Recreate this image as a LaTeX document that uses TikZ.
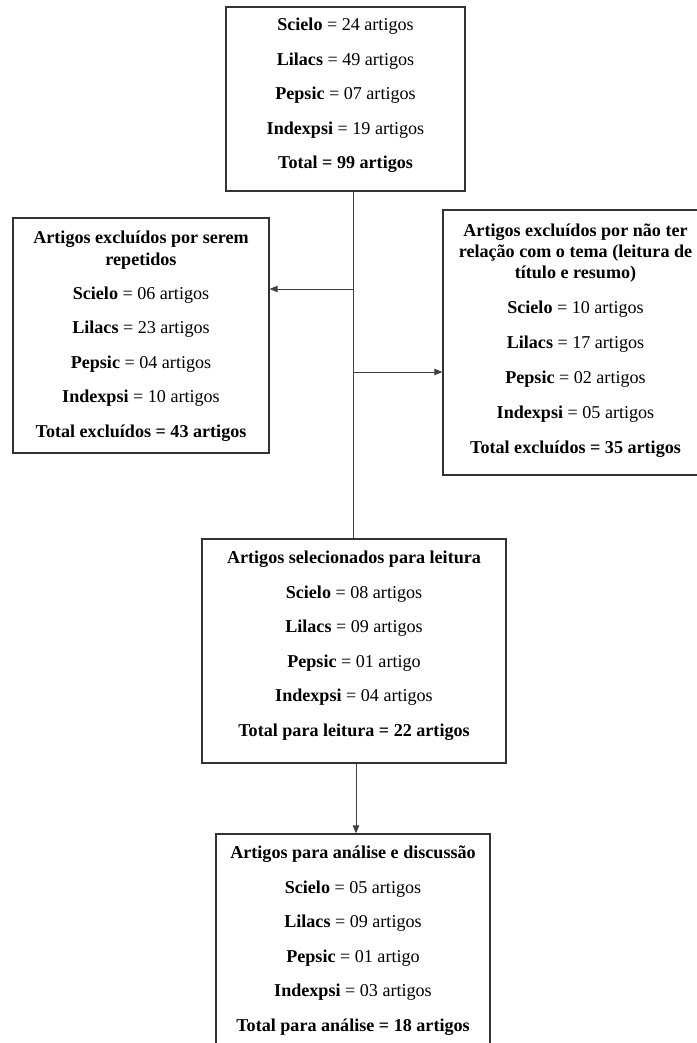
\documentclass[tikz,border=0pt]{standalone}
\usepackage{fontspec}
\newfontfamily\tnr{Liberation Serif}
\usetikzlibrary{arrows.meta}
\begin{document}
\begin{tikzpicture}[x=1pt,y=-1pt,
  box/.style={draw=black!80,line width=1.3pt,inner sep=0pt,fill=none},
  ln/.style={anchor=base,inner sep=0pt,font=\tnr\fontsize{18.1}{21}\selectfont},
  conn/.style={draw=black!75,line width=0.9pt},
  arr/.style={conn,-{Triangle[length=8pt,width=6.5pt]}}]
\useasboundingbox (0,0) rectangle (696,1043);
\fill[white] (0,0) rectangle (696,1043);
% boxes
\node[box,minimum width=239pt,minimum height=184pt] (top) at (345.5,99) {};
\node[box,minimum width=256pt,minimum height=235pt] (left) at (141,335.5) {};
\node[box,minimum width=265pt,minimum height=265pt] (right) at (575.5,342.5) {};
\node[box,minimum width=304pt,minimum height=224pt] (mid) at (354,651) {};
\node[box,minimum width=274pt,minimum height=220pt] (bot) at (353,944) {};
% texts
\foreach[count=\i] \y/\t in {31/{\textbf{Scielo} = 24 artigos},65.5/{\textbf{Lilacs} = 49 artigos},100/{\textbf{Pepsic} = 07 artigos},134.5/{\textbf{Indexpsi} = 19 artigos},169/{\textbf{Total = 99 artigos}}}
  \node[ln] (top-\i) at (345.5,\y) {\t};
\foreach[count=\i] \y/\t in {243/{\textbf{Artigos excluídos por serem}},265/{\textbf{repetidos}},299/{\textbf{Scielo} = 06 artigos},333.5/{\textbf{Lilacs} = 23 artigos},368/{\textbf{Pepsic} = 04 artigos},402.5/{\textbf{Indexpsi} = 10 artigos},437/{\textbf{Total excluídos = 43 artigos}}}
  \node[ln] (left-\i) at (141,\y) {\t};
\foreach[count=\i] \y/\t in {236/{\textbf{Artigos excluídos por não ter}},257/{\textbf{relação com o tema (leitura de}},278/{\textbf{título e resumo)}},313/{\textbf{Scielo} = 10 artigos},348/{\textbf{Lilacs} = 17 artigos},383/{\textbf{Pepsic} = 02 artigos},418/{\textbf{Indexpsi} = 05 artigos},453/{\textbf{Total excluídos = 35 artigos}}}
  \node[ln] (right-\i) at (575.5,\y) {\t};
\foreach[count=\i] \y/\t in {563/{\textbf{Artigos selecionados para leitura}},598/{\textbf{Scielo} = 08 artigos},632/{\textbf{Lilacs} = 09 artigos},667/{\textbf{Pepsic} = 01 artigo},701/{\textbf{Indexpsi} = 04 artigos},736/{\textbf{Total para leitura = 22 artigos}}}
  \node[ln] (mid-\i) at (354,\y) {\t};
\foreach[count=\i] \y/\t in {858/{\textbf{Artigos para análise e discussão}},893/{\textbf{Scielo} = 05 artigos},927/{\textbf{Lilacs} = 09 artigos},962/{\textbf{Pepsic} = 01 artigo},996/{\textbf{Indexpsi} = 03 artigos},1031/{\textbf{Total para análise = 18 artigos}}}
  \node[ln] (bot-\i) at (353,\y) {\t};
% connectors
\coordinate (s1) at ([xshift=7.5pt]top.south);
\coordinate (bl) at (s1 |- 0,289);
\coordinate (br) at (s1 |- 0,372);
\draw[conn] (s1) -- (s1 |- mid.north);
\draw[arr] (bl) -- (left.east |- bl);
\draw[arr] (br) -- (right.west |- br);
\coordinate (s2) at ([xshift=2pt]mid.south);
\draw[arr] (s2) -- (s2 |- bot.north);
\end{tikzpicture}
\end{document}
